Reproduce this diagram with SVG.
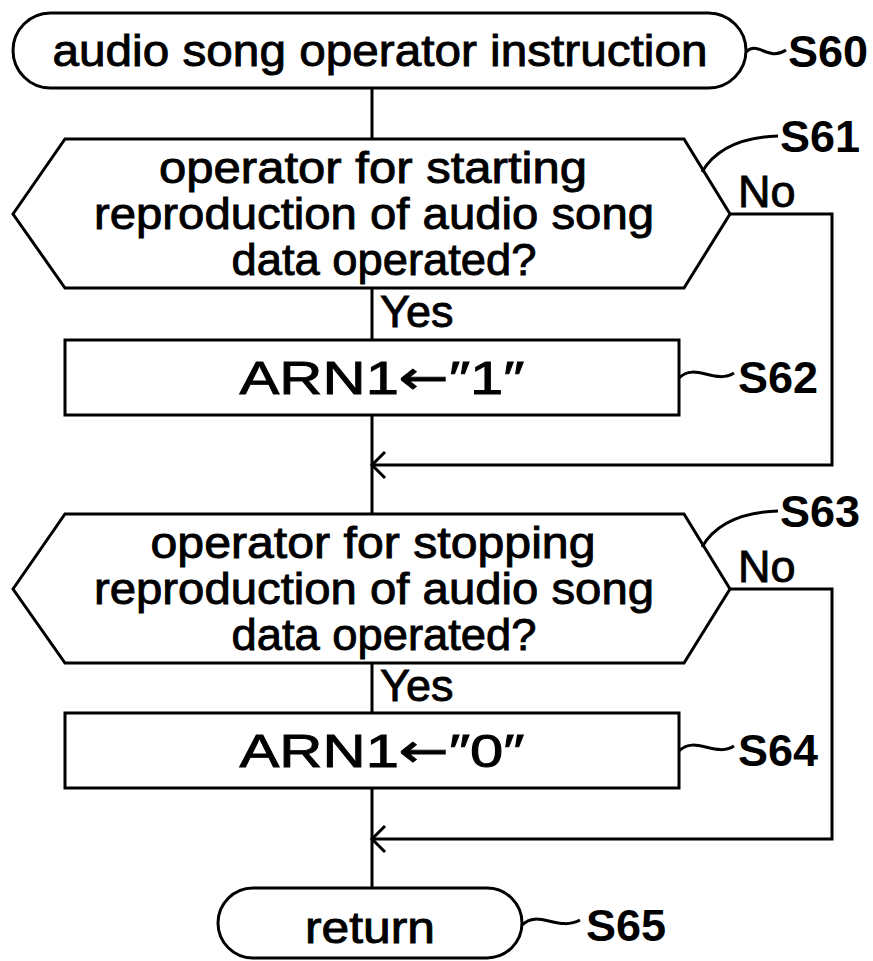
<svg xmlns="http://www.w3.org/2000/svg" width="873" height="961" viewBox="0 0 873 961">
<defs>
<style>
.s{fill:none;stroke:#000;stroke-width:3;stroke-linejoin:miter}
.t{font-family:"Liberation Sans",Arial,sans-serif;font-size:44px;fill:#000;stroke:#000;stroke-width:0.9;text-anchor:middle}
.b{font-size:47px}
.l{font-family:"Liberation Sans",Arial,sans-serif;font-size:45px;font-weight:bold;fill:#000}
.y{font-family:"Liberation Sans",Arial,sans-serif;font-size:45px;fill:#000;stroke:#000;stroke-width:0.9}
.a{font-family:"DejaVu Sans",sans-serif}
</style>
</defs>
<rect width="873" height="961" fill="#fff"/>
<g id="S60">
<rect class="s" x="13" y="13" width="733" height="75" rx="37.5"/>
<text class="t" x="380" y="66" textLength="655" lengthAdjust="spacingAndGlyphs">audio song operator instruction</text>
<path class="s" d="M746,52 C758,40 768,62 786,50"/>
<text class="l" x="788" y="67">S60</text>
</g>
<g id="S61">
<polygon class="s" points="13,214 65,139 684,139 730,214 684,288 65,288"/>
<text class="t" x="373" y="183" textLength="428" lengthAdjust="spacingAndGlyphs">operator for starting</text>
<text class="t" x="374" y="229" textLength="560" lengthAdjust="spacingAndGlyphs">reproduction of audio song</text>
<text class="t" x="384" y="275" textLength="305" lengthAdjust="spacingAndGlyphs">data operated?</text>
<path class="s" d="M702,172 Q722,138 778,136"/>
<text class="l" x="780" y="152">S61</text>
</g>
<g id="S62">
<rect class="s" x="65" y="340" width="614" height="75"/>
<text class="t b" x="382" y="394" textLength="285" lengthAdjust="spacingAndGlyphs">ARN1<tspan class="a">←</tspan>″1″</text>
<path class="s" d="M679,378 C695,362 715,385 734,373"/>
<text class="l" x="738" y="393">S62</text>
</g>
<g id="S63">
<polygon class="s" points="13,589 65,514 684,514 730,589 684,663 65,663"/>
<text class="t" x="373" y="558" textLength="445" lengthAdjust="spacingAndGlyphs">operator for stopping</text>
<text class="t" x="374" y="604" textLength="560" lengthAdjust="spacingAndGlyphs">reproduction of audio song</text>
<text class="t" x="384" y="650" textLength="305" lengthAdjust="spacingAndGlyphs">data operated?</text>
<path class="s" d="M702,547 Q722,513 778,511"/>
<text class="l" x="780" y="527">S63</text>
</g>
<g id="S64">
<rect class="s" x="65" y="713" width="614" height="75"/>
<text class="t b" x="382" y="767" textLength="285" lengthAdjust="spacingAndGlyphs">ARN1<tspan class="a">←</tspan>″0″</text>
<path class="s" d="M679,751 C695,735 715,758 734,746"/>
<text class="l" x="738" y="766">S64</text>
</g>
<g id="S65">
<rect class="s" x="218" y="888" width="304" height="70" rx="35"/>
<text class="t" x="370" y="943" textLength="130" lengthAdjust="spacingAndGlyphs">return</text>
<path class="s" d="M522,925 C538,909 558,932 580,920"/>
<text class="l" x="586" y="941">S65</text>
</g>
<g id="connectors">
<path class="s" d="M372,88 V139"/>
<path class="s" d="M372,288 V340"/>
<path class="s" d="M372,415 V514"/>
<path class="s" d="M372,663 V713"/>
<path class="s" d="M372,788 V888"/>
<path class="s" d="M730,214 H832 V465 H372"/>
<path class="s" d="M385,452 L372,465 L385,478"/>
<path class="s" d="M730,589 H832 V839 H372"/>
<path class="s" d="M385,826 L372,839 L385,852"/>
<text class="y" x="738" y="207">No</text>
<text class="y" x="380" y="327">Yes</text>
<text class="y" x="738" y="582">No</text>
<text class="y" x="380" y="701">Yes</text>
</g>
</svg>
